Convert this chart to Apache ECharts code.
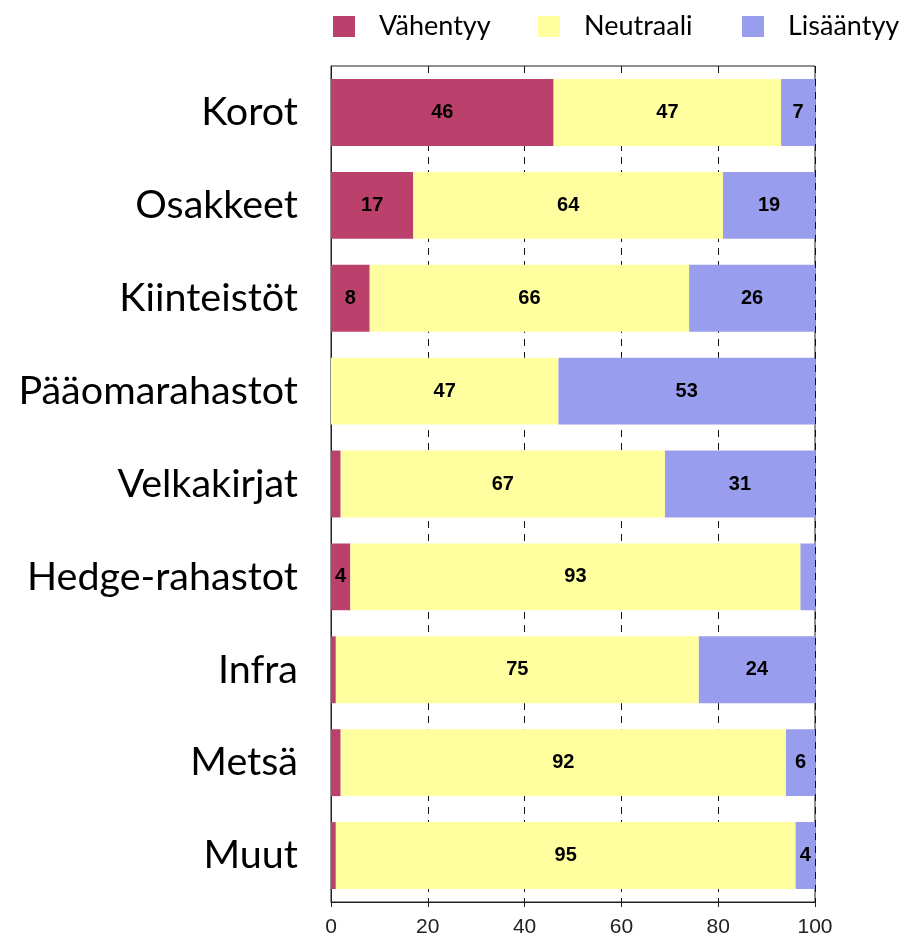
<!DOCTYPE html>
<html>
<head>
<meta charset="utf-8">
<script src="https://cdn.jsdelivr.net/npm/echarts@6/dist/echarts.min.js"></script>
<style>
  html, body { margin: 0; padding: 0; background: #fff; }
  #main { width: 915px; height: 942px; }
</style>
</head>
<body>
<div id="main"></div>
<script>
// data (percent shares)
const categories = ['Korot', 'Osakkeet', 'Kiinteistöt', 'Pääomarahastot', 'Velkakirjat', 'Hedge-rahastot', 'Infra', 'Metsä', 'Muut']
const vahentyy = [46, 17, 8, 0, 2, 4, 1, 2, 1]
const neutraali = [47, 64, 66, 47, 67, 93, 75, 92, 95]
const lisaantyy = [7, 19, 26, 53, 31, 3, 24, 6, 4]
const seriesNames = ['Vähentyy', 'Neutraali', 'Lisääntyy']
const xTicks = [0, 20, 40, 60, 80, 100]

const colors = ['#bc406c', '#ffff9f', '#989ded']
const legendLeft = [333, 538, 742]

const chart = echarts.init(document.getElementById('main'))

// values under 4 are too thin to hold a label
const barLabel = {
  show: true,
  color: '#000',
  fontFamily: 'Liberation Sans',
  fontWeight: 'bold',
  fontSize: 20,
  formatter: p => (p.value >= 4 ? p.value : '')
}

function makeSeries(name, data) {
  return {
    name: name,
    type: 'bar',
    stack: 'total',
    barWidth: '72%',
    data: data,
    label: barLabel,
    emphasis: { disabled: true }
  }
}

// one legend per item so each can sit where the reference puts it
const legends = seriesNames.map((n, i) => ({
  top: 13,
  left: legendLeft[i],
  padding: 0,
  itemWidth: 22,
  itemHeight: 21,
  icon: 'rect',
  textStyle: {
    fontFamily: 'Lato',
    fontSize: 27,
    color: '#000',
    padding: [0, 0, 0, 19]
  },
  data: [n]
}))

chart.setOption({
  color: colors,
  animation: false,
  legend: legends,
  grid: {
    left: 331,
    right: 100,
    top: 66,
    bottom: 40,
    show: true,
    borderColor: '#222',
    borderWidth: 1
  },
  xAxis: {
    type: 'value',
    min: 0,
    max: 100,
    interval: 20,
    axisLine: { show: true, lineStyle: { color: '#222' } },
    axisTick: { show: true, length: 5, lineStyle: { color: '#222' } },
    axisLabel: {
      margin: 15,
      fontFamily: 'Liberation Sans',
      fontSize: 21,
      color: '#222',
      formatter: v => (xTicks.includes(v) ? v : '')
    },
    splitLine: {
      show: true,
      lineStyle: { color: '#111', type: [7, 6], width: 1 }
    }
  },
  yAxis: {
    type: 'category',
    inverse: true,
    data: categories,
    axisLine: { show: true, lineStyle: { color: '#222' } },
    axisTick: { show: false },
    axisLabel: {
      margin: 33,
      fontFamily: 'Lato',
      fontSize: 39.5,
      color: '#000'
    }
  },
  series: seriesNames.map((n, i) => makeSeries(n, [vahentyy, neutraali, lisaantyy][i]))
})
</script>
</body>
</html>
